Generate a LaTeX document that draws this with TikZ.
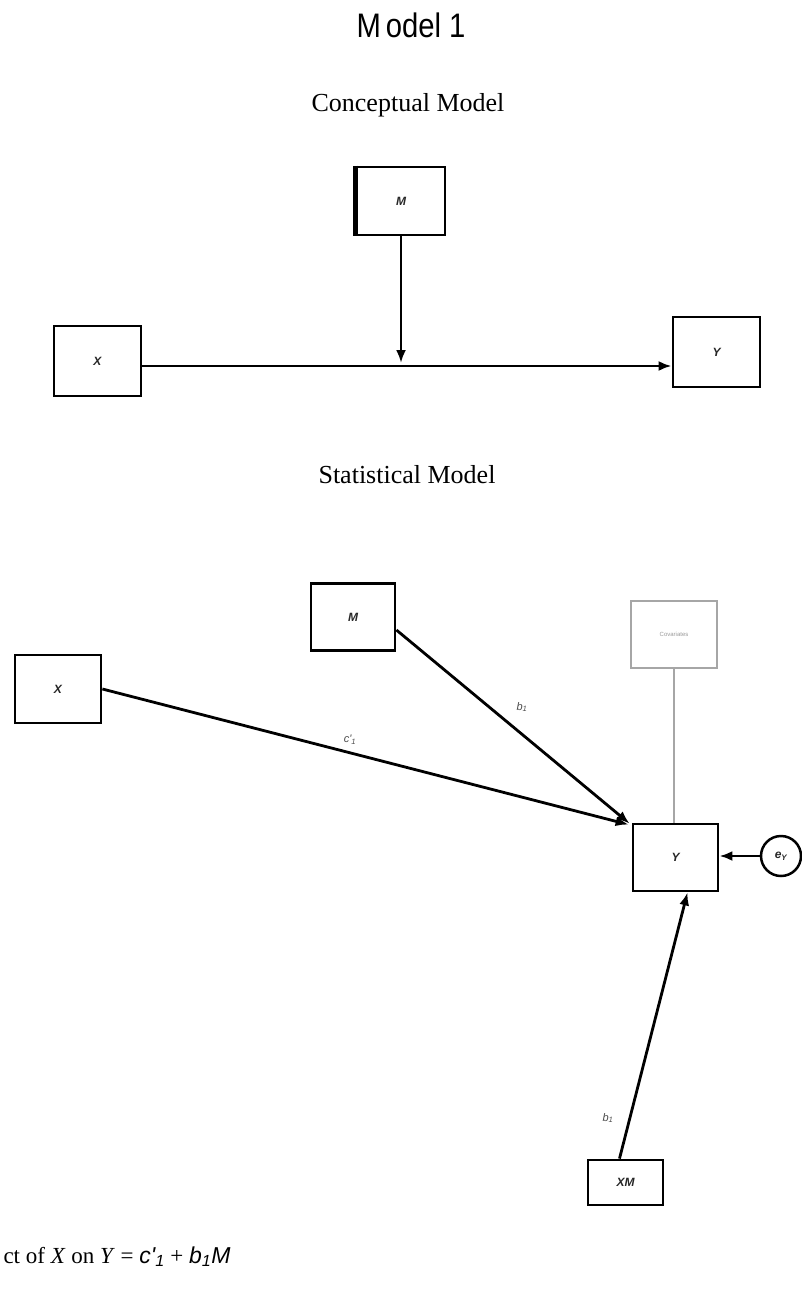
\documentclass[tikz,border=0pt]{standalone}
\usepackage{fontspec}
\setmainfont{Liberation Serif}
\newfontfamily\arialfont{Liberation Sans}
\usetikzlibrary{arrows.meta}
\begin{document}
\begin{tikzpicture}[x=1pt,y=-1pt,
  box/.style={draw,line width=2.8pt,minimum width=#1,inner sep=0pt},
  lbl/.style={font=\arialfont\bfseries\itshape\fontsize{12}{12}\selectfont,text=black!85},
  conn/.style={line width=2.8pt},
  arr/.style={conn,-{Latex[length=13pt,width=10pt]}},
  coef/.style={font=\arialfont\itshape\fontsize{11}{11}\selectfont,text=black!70},
  heading/.style={font=\fontsize{26}{26}\selectfont,anchor=base}]
\useasboundingbox (0,0) rectangle (802,1297);
% title
\node[anchor=base,font=\arialfont\fontsize{34}{34}\selectfont] (title) at (411,38) {\scalebox{0.86}[1]{M\,odel 1}};
% conceptual model
\node[heading] (ch) at (408,112) {Conceptual Model};
\node[box=88pt,minimum height=68pt,lbl] (cM) at (401,201) {M};
\draw[line width=5pt] (cM.north west) -- (cM.south west);
\node[box=87pt,minimum height=70pt,lbl] (cX) at (97.5,361) {X};
\node[box=87pt,minimum height=70pt,lbl] (cY) at (716.5,352) {Y};
\coordinate (cj) at (401,366);
\draw[arr] (cX.east |- cj) -- (cY.west |- cj);
\draw[arr] (cM.south) -- ([yshift=3pt]cj);
% statistical model
\node[heading] (sh) at (407,483) {Statistical Model};
\node[box=84pt,minimum height=67pt,lbl] (sM) at (353,617) {M};
\node[box=86pt,minimum height=67pt,draw=black!35,line width=2pt,font=\arialfont\fontsize{6}{6}\selectfont,text=black!40] (sC) at (674,634) {Covariates};
\node[box=86pt,minimum height=68pt,lbl] (sX) at (58,689) {X};
\node[box=85pt,minimum height=67pt,lbl] (sY) at (675.5,857.5) {Y};
\node[draw,circle,line width=2.5pt,minimum size=40pt,inner sep=0pt,lbl] (eY) at (781,856) {e\textsubscript{Y}};
\node[box=75pt,minimum height=45pt,lbl] (sXM) at (625.5,1182.5) {XM};
\draw[arr] (sX.east) -- ([xshift=-3pt,yshift=-2pt]sY.north west);
\draw[arr] ([yshift=-13pt]sM.east) -- ([xshift=-2pt,yshift=-1pt]sY.north west);
\draw[draw=black!35,line width=2pt] (sC.south) -- (sC.south |- sY.north);
\draw[arr] (eY.west) -- (sY.east |- eY.west);
\draw[arr] ([xshift=-6pt]sXM.north) -- ([xshift=12pt]sY.south);
\node[coef] (lc) at (350,740) {c'\textsubscript{1}};
\node[coef] (lb1) at (522,707) {b\textsubscript{1}};
\node[coef] (lb3) at (608,1118) {b\textsubscript{1}};
% formula
\node[anchor=base west,font=\fontsize{23}{23}\selectfont] (formula) at (0,1263) {ct of \textit{X} on \textit{Y} = {\arialfont\itshape c'\textsubscript{1}} + {\arialfont\itshape b\textsubscript{1}M}};
\end{tikzpicture}
\end{document}
